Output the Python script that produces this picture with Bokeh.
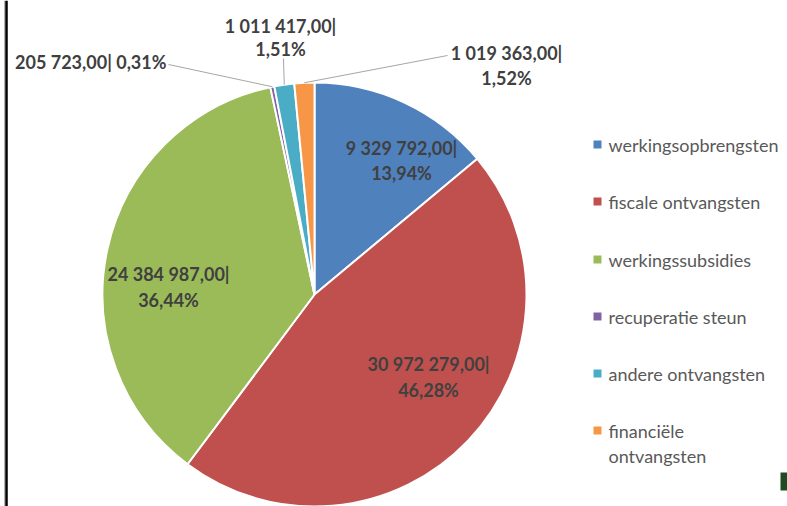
import math
import numpy as np
from bokeh.plotting import figure
from bokeh.models import Range1d, ColumnDataSource
from bokeh.core.properties import value
from bokeh.embed import file_html
from bokeh.resources import INLINE

# ---- data ----
categories = ["werkingsopbrengsten", "fiscale ontvangsten", "werkingssubsidies",
              "recuperatie steun", "andere ontvangsten", "financiële ontvangsten"]
values = [9329792.00, 30972279.00, 24384987.00, 205723.00, 1011417.00, 1019363.00]
colors = ["#4F81BD", "#C0504D", "#9BBB59", "#8064A2", "#4BACC6", "#F79646"]
legend_lines = [["werkingsopbrengsten"], ["fiscale ontvangsten"], ["werkingssubsidies"],
                ["recuperatie steun"], ["andere ontvangsten"], ["financiële", "ontvangsten"]]

# ---- layout (reference pixel coordinates; y is flipped to data space) ----
W, H = 787, 506
CX, CY, R = 314, 294, 212
label_pos = [  # (x, y line1, y line2)
    (401, 147, 172),
    (428, 363, 389),
    (168, 273, 299),
    None,
    (280, 25, 48),
    (506, 52, 77),
]

def fmt_val(v):
    return f"{v:,.2f}".replace(",", " ").replace(".", ",")

def fmt_pct(f):
    return f"{f*100:.2f}".replace(".", ",") + "%"

total = sum(values)
fracs = np.array(values) / total
cum_end = np.cumsum(fracs)
cum_start = cum_end - fracs
start_angle = math.pi / 2 - 2 * math.pi * cum_start
end_angle = math.pi / 2 - 2 * math.pi * cum_end

p = figure(width=W, height=H, x_range=Range1d(0, W), y_range=Range1d(-H, 0),
           output_backend="svg", toolbar_location=None, min_border=0)
p.axis.visible = False
p.grid.visible = False
p.outline_line_color = None
p.background_fill_color = "white"
p.border_fill_color = "white"

src = ColumnDataSource(dict(start=start_angle, end=end_angle, color=colors, cat=categories))
p.wedge(x=CX, y=-CY, radius=R, start_angle="start", end_angle="end", direction="clock",
        fill_color="color", line_color="white", line_width=2, source=src)

lab_font = dict(text_font=value("Lato"), text_font_style="bold", text_font_size="18px",
                text_color="#404040", text_baseline="middle")

tx, ty, tt = [], [], []
for i, pos in enumerate(label_pos):
    if pos is None:
        continue
    x, y1, y2 = pos
    tx += [x, x]
    ty += [-y1, -y2]
    tt += [fmt_val(values[i]) + "|", fmt_pct(fracs[i])]
p.text(x=tx, y=ty, text=tt, text_align="center", **lab_font)

# single-line label for the small purple slice
p.text(x=[166], y=[-61], text=[fmt_val(values[3]) + "| " + fmt_pct(fracs[3])],
       text_align="right", **lab_font)

# leader lines to slice midpoints on the rim
mid = (cum_start + cum_end) / 2
ex = CX + R * np.sin(2 * math.pi * (mid - 1))
ey = CY - R * np.cos(2 * math.pi * (mid - 1))
lead_start = {3: (168, 64), 4: (283, 58), 5: (447, 55)}
x0s, y0s, x1s, y1s = [], [], [], []
for i, (sx, sy) in lead_start.items():
    x0s.append(sx); y0s.append(-sy); x1s.append(ex[i]); y1s.append(-ey[i])
p.segment(x0=x0s, y0=y0s, x1=x1s, y1=y1s, line_color="#A6A6A6", line_width=1)

# legend
leg_y = [144, 201, 259, 316, 373, 430]
p.rect(x=[597] * 6, y=[-y for y in leg_y], width=8, height=8, fill_color=colors, line_color=None)
lx, ly, lt = [], [], []
for i, lines in enumerate(legend_lines):
    for j, s in enumerate(lines):
        lx.append(608); ly.append(-(leg_y[i] + 25 * j)); lt.append(s)
p.text(x=lx, y=ly, text=lt, text_font=value("Lato"), text_font_size="18px",
       text_color="#595959", text_align="left", text_baseline="middle")

# left frame line and corner fragment
p.segment(x0=[4], y0=[0], x1=[4], y1=[-H], line_color="#B0B0B0", line_width=1)
p.segment(x0=[6], y0=[0], x1=[6], y1=[-H], line_color="black", line_width=2.5)
p.quad(left=[780], right=[787], top=[-472], bottom=[-490], fill_color="#1F4A22", line_color=None)

open("out.html", "w").write(file_html(p, INLINE))
